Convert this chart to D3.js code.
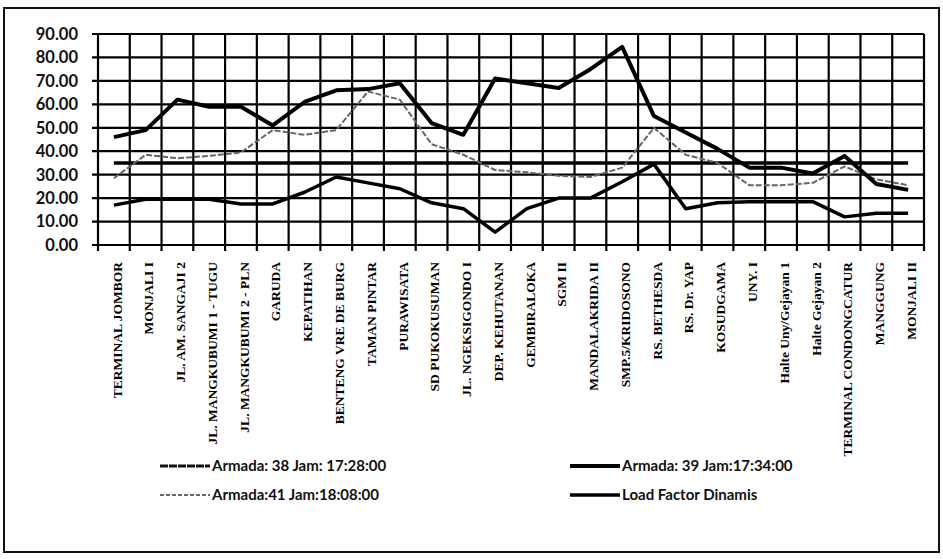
<!DOCTYPE html>
<html><head><meta charset="utf-8">
<script src="https://cdn.jsdelivr.net/npm/d3@7"></script>
<style>body{margin:0;background:#fff}svg{display:block}</style>
</head><body>
<svg id="c" width="943" height="559"></svg>
<script>
const categories = ["TERMINAL JOMBOR","MONJALI I","JL. AM. SANGAJI 2","JL. MANGKUBUMI 1 - TUGU","JL. MANGKUBUMI 2 - PLN","GARUDA","KEPATIHAN","BENTENG VRE DE BURG","TAMAN PINTAR","PURAWISATA","SD PUKOKUSUMAN","JL. NGEKSIGONDO I","DEP. KEHUTANAN","GEMBIRALOKA","SGM II","MANDALAKRIDA II","SMP.5/KRIDOSONO","RS. BETHESDA","RS. Dr. YAP","KOSUDGAMA","UNY. I","Halte Uny/Gejayan 1","Halte Gejayan 2","TERMINAL CONDONGCATUR","MANGGUNG","MONJALI II"];
const armada38 = [17,19.5,19.5,19.5,17.5,17.5,22.5,29,26.5,24,18,15.5,5.5,15.5,20,20,27,34.5,15.5,18,18.5,18.5,18.5,12,13.5,13.5];
const armada39 = [46,49,62,59,59,51,61,66,66.5,69,52,47,71,69,67,75,84.5,55,48,41,33,33,30.5,38,26,23.5];
const armada41 = [28.5,38.5,37,38,39.5,49,47,49,65.5,62,43,38.5,32,31,29.5,29,33,50,38.5,35,25.5,25.5,26.5,33.5,28,25.5];
const loadFactor = [35,35,35,35,35,35,35,35,35,35,35,35,35,35,35,35,35,35,35,35,35,35,35,35,35,35];
const yTicks = [0,10,20,30,40,50,60,70,80,90];
const legendLabels = ["Armada: 38 Jam: 17:28:00","Armada: 39 Jam:17:34:00","Armada:41 Jam:18:08:00","Load Factor Dinamis"];

const svg = d3.select("#c");
const L = 98, R = 924, T = 34, B = 245;
const x = d3.scaleBand().domain(categories).range([L, R]);
const y = d3.scaleLinear().domain([0, 90]).range([B, T]);
const cx = c => x(c) + x.bandwidth() / 2;

// outer frame
svg.append("rect").attr("x", 4).attr("y", 8).attr("width", 935).attr("height", 544)
  .attr("fill", "none").attr("stroke", "#111").attr("stroke-width", 2);

// horizontal grid + y ticks
const g = svg.append("g");
g.selectAll("line.h").data(yTicks).join("line")
  .attr("x1", L - 6).attr("x2", R).attr("y1", d => y(d)).attr("y2", d => y(d))
  .attr("stroke", "#000").attr("stroke-width", 2.2);
// vertical grid + x ticks
const bounds = categories.map(c => x(c)).concat([R]);
g.selectAll("line.v").data(bounds).join("line")
  .attr("x1", d => d).attr("x2", d => d).attr("y1", T).attr("y2", B + 6)
  .attr("stroke", "#000").attr("stroke-width", 2.2);

// y labels
svg.append("g").selectAll("text").data(yTicks).join("text")
  .attr("x", 78).attr("y", d => y(d)).attr("dy", "0.36em").attr("text-anchor", "end")
  .attr("font-family", "Lato, 'Open Sans', sans-serif").attr("font-size", 16.5).attr("font-weight", "bold").attr("fill", "#111")
  .text(d => d3.format(".2f")(d));

// x labels
svg.append("g").selectAll("text").data(categories).join("text")
  .attr("transform", d => `translate(${cx(d) + 3},262) rotate(-90)`)
  .attr("dy", "0.35em").attr("text-anchor", "end")
  .attr("font-family", "'Liberation Serif', 'Times New Roman', serif").attr("font-size", 13.5).attr("font-weight", "bold")
  .attr("fill", "#000").text(d => d);

const line = d3.line().x((d, i) => cx(categories[i])).y(d => y(d));
const series = [
  {v: loadFactor, w: 3.5, c: "#000", dash: null},
  {v: armada38, w: 3.5, c: "#000", dash: null},
  {v: armada41, w: 2, c: "#666", dash: "6,2"},
  {v: armada39, w: 4, c: "#000", dash: null}
];
series.forEach(s => {
  svg.append("path").datum(s.v).attr("d", line).attr("fill", "none")
    .attr("stroke", s.c).attr("stroke-width", s.w).attr("stroke-linejoin", "round")
    .attr("stroke-dasharray", s.dash);
});

// legend
const leg = [
  {t: legendLabels[0], x: 160, y: 466, w: 3, c: "#111", dash: "8,1"},
  {t: legendLabels[1], x: 570, y: 466, w: 4, c: "#000", dash: null},
  {t: legendLabels[2], x: 160, y: 495, w: 2, c: "#666", dash: "4,2"},
  {t: legendLabels[3], x: 570, y: 495, w: 3.5, c: "#000", dash: null}
];
const lg = svg.append("g").selectAll("g").data(leg).join("g");
lg.append("line").attr("x1", d => d.x).attr("x2", d => d.x + 50).attr("y1", d => d.y).attr("y2", d => d.y)
  .attr("stroke", d => d.c).attr("stroke-width", d => d.w).attr("stroke-dasharray", d => d.dash);
lg.append("text").attr("x", d => d.x + 52).attr("y", d => d.y).attr("dy", "0.36em")
  .attr("font-family", "Lato, 'Open Sans', sans-serif").attr("font-size", 15).attr("font-weight", "bold").attr("fill", "#111")
  .text(d => d.t);
</script>
</body></html>
